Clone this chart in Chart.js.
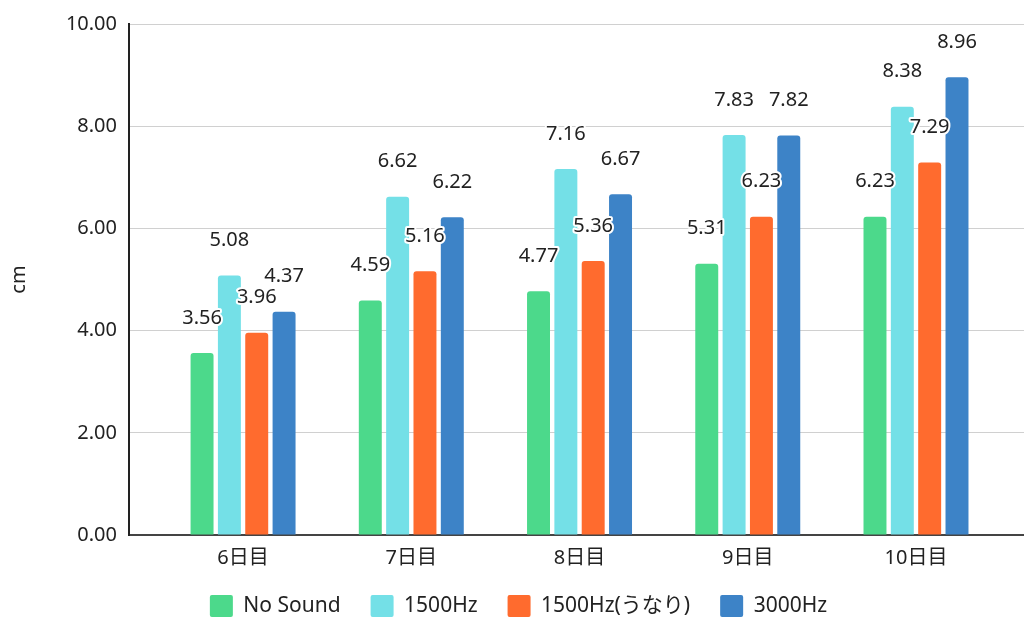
<!DOCTYPE html>
<html>
<head>
<meta charset="utf-8">
<script src="https://cdn.jsdelivr.net/npm/chart.js@4/dist/chart.umd.min.js"></script>
<style>
  html, body { margin: 0; padding: 0; background: #fff; }
  #wrap { width: 1024px; height: 619px; }
</style>
</head>
<body>
<div id="wrap"><canvas id="chart"></canvas></div>
<script>
// カテゴリ
const days = ['6日目', '7日目', '8日目', '9日目', '10日目'];

// 系列データ (cm)
const noSound   = [3.56, 4.59, 4.77, 5.31, 6.23];
const hz1500    = [5.08, 6.62, 7.16, 7.83, 8.38];
const hz1500Un  = [3.96, 5.16, 5.36, 6.23, 7.29];
const hz3000    = [4.37, 6.22, 6.67, 7.82, 8.96];

// 目盛り
const yTicks = [0, 2, 4, 6, 8, 10];

const FONT = "'Noto Sans', 'Noto Sans CJK JP', sans-serif";

function series(label, values, color) {
    return {
        label: label,
        data: values.map((v, i) => ({ x: i, y: v })),
        backgroundColor: color,
        borderColor: color,
        borderWidth: 0,
        borderRadius: { topLeft: 3, topRight: 3 },
        borderSkipped: 'bottom',
        categoryPercentage: 0.65,
        barPercentage: 0.84
    };
}

// 棒の上の数値ラベル（白縁取り）
const valueLabels = {
    id: 'valueLabels',
    afterDatasetsDraw(chart) {
        const ctx = chart.ctx;
        ctx.save();
        ctx.font = '20px ' + FONT;
        ctx.textAlign = 'center';
        ctx.textBaseline = 'middle';
        ctx.lineJoin = 'round';
        chart.data.datasets.forEach((ds, di) => {
            chart.getDatasetMeta(di).data.forEach((bar, i) => {
                const text = ds.data[i].y.toFixed(2);
                const y = bar.y - 35;
                ctx.lineWidth = 4;
                ctx.strokeStyle = '#fff';
                ctx.strokeText(text, bar.x, y);
                ctx.fillStyle = '#222';
                ctx.fillText(text, bar.x, y);
            });
        });
        ctx.restore();
    }
};

// 凡例の位置調整
const legendPlace = {
    id: 'legendPlace',
    afterLayout(chart) {
        const lg = chart.legend;
        lg.left = 13;
        lg.right = 1024;
        const h = lg.bottom - lg.top;
        lg.top = 565;
        lg.bottom = 565 + h;
    }
};

new Chart(document.getElementById('chart'), {
    type: 'bar',
    data: {
        datasets: [
            series('No Sound', noSound, '#4cd98b'),
            series('1500Hz', hz1500, '#74e0e7'),
            series('1500Hz(うなり)', hz1500Un, '#ff6b2e'),
            series('3000Hz', hz3000, '#3d83c7')
        ]
    },
    plugins: [valueLabels, legendPlace],
    options: {
        responsive: true,
        maintainAspectRatio: false,
        animation: false,
        layout: { padding: { top: 0, left: 7, right: 0, bottom: -24 } },
        scales: {
            x: {
                type: 'linear',
                offset: false,
                min: -0.678,
                max: 4.642,
                grid: { display: false, drawTicks: false },
                border: { display: true, color: '#444', width: 2 },
                afterBuildTicks: s => { s.ticks = days.map((d, i) => ({ value: i })); },
                ticks: {
                    autoSkip: false,
                    maxRotation: 0,
                    padding: 11,
                    color: '#222',
                    font: { family: FONT, size: 20 },
                    callback: v => days[v]
                }
            },
            y: {
                min: 0,
                max: 10,
                afterBuildTicks: s => { s.ticks = yTicks.map(v => ({ value: v })); },
                afterFit: s => { s.width = 122; },
                grid: { color: '#d0d0d0', lineWidth: 1, drawTicks: false },
                border: { display: true, color: '#222', width: 2 },
                ticks: {
                    padding: 12,
                    color: '#222',
                    font: { family: FONT, size: 20 },
                    callback: v => v.toFixed(2)
                },
                title: {
                    display: true,
                    text: 'cm',
                    color: '#222',
                    padding: 0,
                    font: { family: FONT, size: 20 }
                }
            }
        },
        plugins: {
            legend: {
                position: 'bottom',
                labels: {
                    boxWidth: 23,
                    boxHeight: 22,
                    padding: 30,
                    useBorderRadius: true,
                    borderRadius: 2,
                    color: '#222',
                    font: { family: FONT, size: 21 }
                }
            },
            tooltip: { enabled: false }
        }
    }
});
</script>
</body>
</html>
